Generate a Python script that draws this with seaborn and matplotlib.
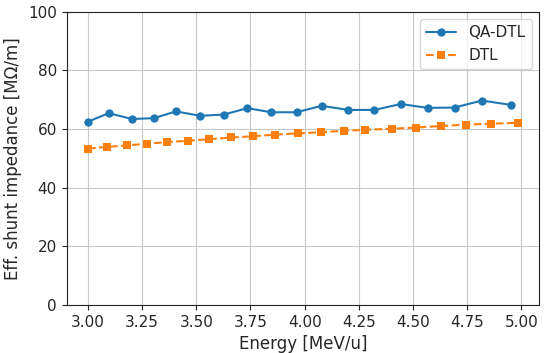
import matplotlib
matplotlib.use("Agg")
import matplotlib.pyplot as plt
import pandas as pd
import seaborn as sns

# QA-DTL cells
qa_energy = [3.000, 3.096, 3.202, 3.305, 3.406, 3.517, 3.626, 3.736, 3.846,
             3.963, 4.078, 4.202, 4.322, 4.443, 4.569, 4.692, 4.818, 4.954]
qa_zeff = [62.5, 65.4, 63.4, 63.7, 66.0, 64.5, 64.9, 67.1, 65.7,
           65.7, 67.9, 66.5, 66.5, 68.5, 67.2, 67.3, 69.7, 68.2]

# conventional DTL cells
dtl_energy = [3.000, 3.086, 3.180, 3.272, 3.365, 3.461, 3.560, 3.660, 3.760, 3.865,
              3.968, 4.075, 4.181, 4.278, 4.405, 4.516, 4.629, 4.744, 4.862, 4.984]
dtl_zeff = [53.3, 53.9, 54.4, 55.0, 55.5, 56.0, 56.5, 57.1, 57.5, 58.1,
            58.5, 58.9, 59.4, 59.7, 60.1, 60.5, 61.0, 61.5, 61.8, 62.1]

x_ticks = [3.00, 3.25, 3.50, 3.75, 4.00, 4.25, 4.50, 4.75, 5.00]
y_ticks = [0, 20, 40, 60, 80, 100]

qa = pd.DataFrame({"energy": qa_energy, "zeff": qa_zeff})
dtl = pd.DataFrame({"energy": dtl_energy, "zeff": dtl_zeff})

sns.set_style("ticks", {"axes.grid": True, "grid.color": "#c8c8c8",
                        "axes.edgecolor": "#222222"})
plt.rcParams["font.family"] = ["DejaVu Sans"]

fig, ax = plt.subplots(figsize=(5.5, 3.53), dpi=100)
fig.subplots_adjust(left=0.121, right=0.9805, top=0.967, bottom=0.136)

sns.lineplot(data=qa, x="energy", y="zeff", ax=ax, color="#1f77b4",
             marker="o", markersize=6, markeredgewidth=0, label="QA-DTL")
sns.lineplot(data=dtl, x="energy", y="zeff", ax=ax, color="#ff7f0e",
             marker="s", markersize=6, markeredgewidth=0, linestyle="--",
             label="DTL")

ax.set_ylim(0, 100)
ax.set_xticks(x_ticks)
ax.set_yticks(y_ticks)
ax.tick_params(labelsize=11)
ax.set_xlabel("Energy [MeV/u]", fontsize=12)
ax.set_ylabel("Eff. shunt impedance [MΩ/m]", fontsize=12)
ax.legend(loc="upper right", fontsize=11)

fig.savefig("out.png", dpi=100)
